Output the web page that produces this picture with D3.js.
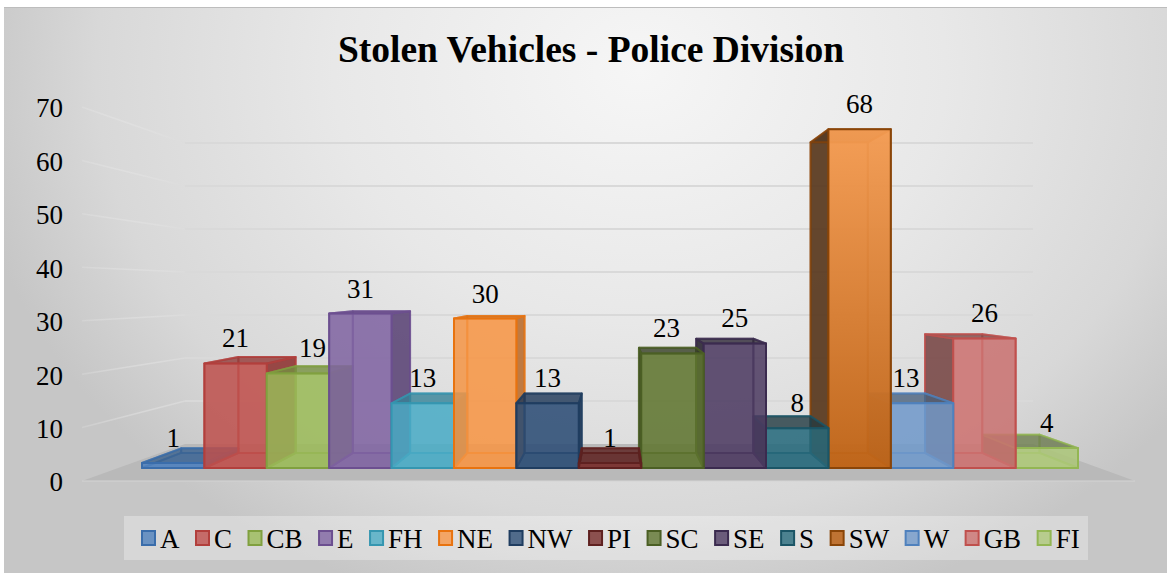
<!DOCTYPE html>
<html><head><meta charset="utf-8">
<script src="https://cdn.jsdelivr.net/npm/d3@7/dist/d3.min.js"></script>
<style>html,body{margin:0;padding:0;background:#fff}svg{display:block}text{font-family:"Liberation Serif",serif;fill:#000}</style>
</head><body><svg id="c" width="1167" height="573"></svg>
<script>
const categories=["A","C","CB","E","FH","NE","NW","PI","SC","SE","S","SW","W","GB","FI"];
const values=[1,21,19,31,13,30,13,1,23,25,8,68,13,26,4];
const colors=["#4f81bd","#c0504d","#9bbb59","#8064a2","#4bacc6","#f79646","#2c4d75","#772c2a","#5f7530","#4d3b62","#276a7c","#b65708","#729aca","#cd7371","#afc97a"];
const edgeColors=["#3a6dab","#b23f3c","#80a03f","#6c4f90","#3596b0","#e8730f","#1f3d60","#5f2120","#4b5f24","#3b2b4f","#1b5566","#8a4508","#4f81bd","#c0504d","#93b653"];
const yTicks=[0,10,20,30,40,50,60,70];
const titleText="Stolen Vehicles - Police Division";

const W=1167,H=573;
const svg=d3.select("#c");
const defs=svg.append("defs");
const bg=defs.append("radialGradient").attr("id","bg").attr("gradientUnits","userSpaceOnUse")
  .attr("cx",0).attr("cy",0).attr("r",1)
  .attr("gradientTransform","translate(640,70) scale(680,560)");
[[0,"#f6f6f6"],[.45,"#e8e8e8"],[.8,"#d8d8d8"],[1,"#c6c6c6"]].forEach(([o,c])=>bg.append("stop").attr("offset",o).attr("stop-color",c));
svg.append("rect").attr("x",4).attr("y",7).attr("width",W-4).attr("height",H-7).attr("fill","url(#bg)");
svg.append("line").attr("x1",4).attr("x2",W).attr("y1",7.5).attr("y2",7.5).attr("stroke","#bdbdbd");

const x=d3.scaleBand().domain(categories).range([142,1078]).paddingInner(0);
const yFront=d3.scaleLinear().domain([0,70]).range([468,119.4]);
const yWallFront=d3.scaleLinear().domain([0,70]).range([481,107]);
const yWallBack=d3.scaleLinear().domain([0,70]).range([444,143]);
const wall={x0:82,x1:185,x2:1033,x3:1135};
const vp=[614,286],k=0.917;
const proj=(px,py,d)=>d?[vp[0]+(px-vp[0])*k,vp[1]+(py-vp[1])*k]:[px,py];
const poly=d3.line().curve(d3.curveLinearClosed);

// floor and walls
svg.append("path").attr("d",poly([[wall.x0,481],[wall.x1,444],[wall.x2,444],[wall.x3,481]])).attr("fill","#b9b9b9");
svg.append("line").attr("x1",wall.x0).attr("x2",wall.x3).attr("y1",481).attr("y2",481).attr("stroke","#d4d4d4");
const wallGrad=defs.append("linearGradient").attr("id","wallGrad").attr("gradientUnits","userSpaceOnUse")
  .attr("x1",wall.x0).attr("x2",wall.x1).attr("y1",0).attr("y2",0);
wallGrad.append("stop").attr("offset",0).attr("stop-color","#eeeeee").attr("stop-opacity",.2);
wallGrad.append("stop").attr("offset",1).attr("stop-color","#dcdcdc").attr("stop-opacity",.75);
const gridG=svg.append("g").attr("fill","none");
yTicks.filter(t=>t>0).forEach(t=>{
  gridG.append("path").attr("d",d3.line()([[wall.x0,yWallFront(t)],[wall.x1,yWallBack(t)]])).attr("stroke","url(#wallGrad)").attr("stroke-width",1.5);
  gridG.append("path").attr("d",d3.line()([[wall.x1,yWallBack(t)],[wall.x2,yWallBack(t)]])).attr("stroke","#d9d9d9").attr("stroke-width",2);
});

// y axis labels
const axisG=svg.append("g").attr("transform","translate(63,1)").call(d3.axisLeft(yWallFront).tickValues(yTicks).tickSize(0).tickPadding(0));
axisG.select(".domain").remove();
axisG.selectAll("text").attr("font-size",27).style("font-family",'"Liberation Serif",serif').attr("fill","#000").attr("dy","0.33em");

// bars painted from the outside in toward the vanishing point
const bars=categories.map((c,i)=>({c,v:values[i],col:colors[i],edge:edgeColors[i],mid:x(c)+x.bandwidth()/2}));
const sorted=bars.slice().sort((a,b)=>Math.abs(b.mid-vp[0])-Math.abs(a.mid-vp[0]));
const swGrad=defs.append("linearGradient").attr("id","swFront").attr("x1",0).attr("x2",0).attr("y1",0).attr("y2",1);
swGrad.append("stop").attr("offset",0).attr("stop-color","#f59c52");
swGrad.append("stop").attr("offset",1).attr("stop-color","#bf6417");
const shade=(col,isLeft)=>{
  if(isLeft) return d3.color(col).darker(.8).formatHex();
  const h=d3.hsl(col); h.s*=.5; h.l*=.62; return h.formatHex();
};
const barG=svg.append("g");
sorted.forEach(b=>{
  const x0=x(b.c),x1=x0+x.bandwidth(),y0=yFront(0),y1=yFront(b.v);
  const g=barG.append("g");
  const isLeft=b.mid<vp[0];
  const dark=shade(b.col,isLeft);
  const face=(pts,fill,op)=>g.append("path").attr("d",poly(pts)).attr("fill",fill).attr("fill-opacity",op)
    .attr("stroke",b.edge).attr("stroke-opacity",.7).attr("stroke-width",2).attr("stroke-linejoin","round");
  const F=(px,py)=>proj(px,py,false),B=(px,py)=>proj(px,py,true);
  face([B(x0,y0),B(x1,y0),B(x1,y1),B(x0,y1)],b.col,.3);
  face([F(x0,y0),F(x1,y0),B(x1,y0),B(x0,y0)],b.col,.5);
  const hiddenX=isLeft?x0:x1, shownX=isLeft?x1:x0;
  face([F(hiddenX,y0),F(hiddenX,y1),B(hiddenX,y1),B(hiddenX,y0)],dark,.2);
  face([F(shownX,y0),F(shownX,y1),B(shownX,y1),B(shownX,y0)],dark,.9);
  face([F(x0,y1),F(x1,y1),B(x1,y1),B(x0,y1)],dark,.75);
  const fr=face([F(x0,y0),F(x1,y0),F(x1,y1),F(x0,y1)],b.c==="SW"?"url(#swFront)":b.col,b.c==="SW"?.95:.82);
  fr.attr("stroke-opacity",1);
});

// value labels
const nudge={CB:14.5,SC:-6,W:-16};
svg.append("g").selectAll("text").data(bars).join("text")
  .attr("x",d=>d.mid+(nudge[d.c]||0)).attr("y",d=>yFront(d.v)-25)
  .attr("dy","0.33em").attr("text-anchor","middle").attr("font-size",27).text(d=>d.v);

// title
svg.append("text").attr("x",591).attr("y",62).attr("text-anchor","middle").attr("font-size",37.5).attr("font-weight","bold").text(titleText);

// legend
svg.append("rect").attr("x",124).attr("y",516).attr("width",964).attr("height",44).attr("fill","#fff").attr("fill-opacity",.3);
let lx=141;
const legend=svg.append("g");
bars.forEach(b=>{
  legend.append("rect").attr("x",lx+1).attr("y",531).attr("width",13).attr("height",14)
    .attr("fill",b.col).attr("fill-opacity",.8).attr("stroke",b.edge).attr("stroke-width",2);
  const t=legend.append("text").attr("x",lx+19).attr("y",548).attr("font-size",27).text(b.c);
  lx+=19+t.node().getComputedTextLength()+15.5;
});
</script></body></html>
